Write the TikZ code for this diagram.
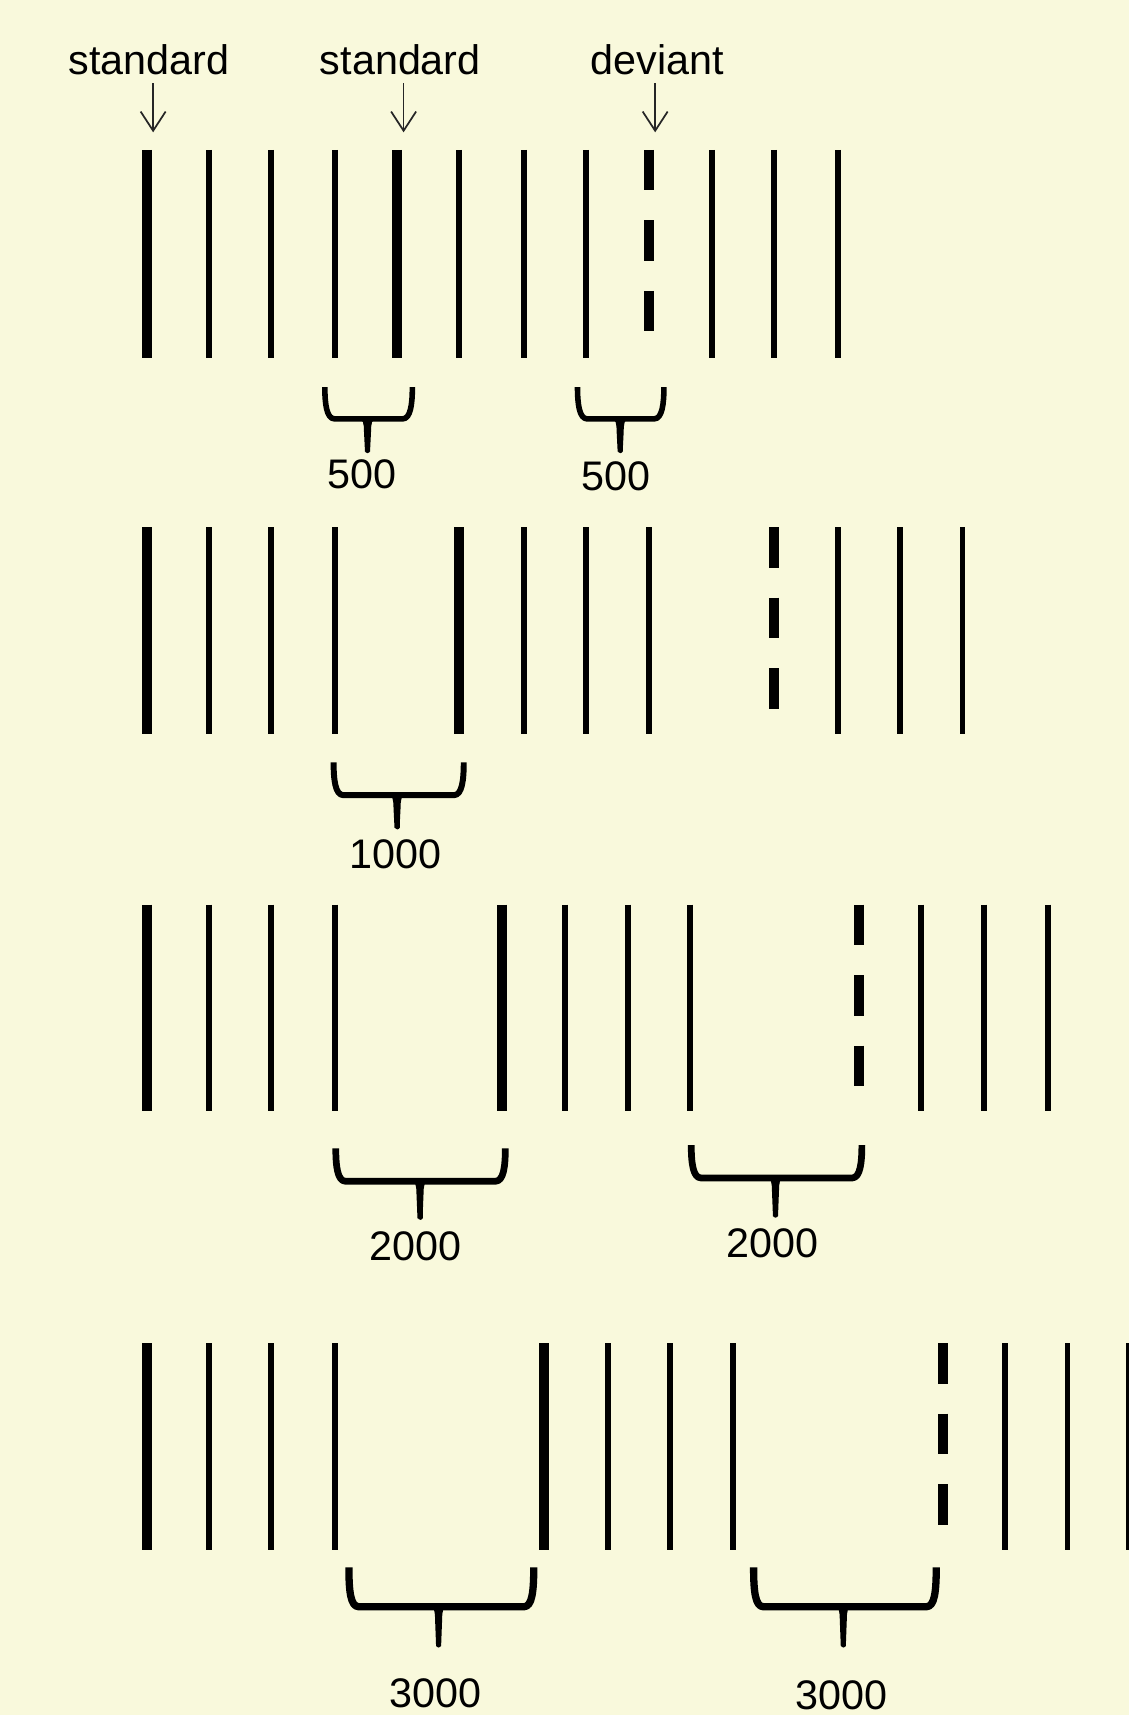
\documentclass[tikz,border=0pt]{standalone}
\usepackage{fontspec}
\setmainfont{Liberation Sans}
\usetikzlibrary{arrows.meta}
\definecolor{bg}{HTML}{F9F9DC}
\newcommand{\mybrace}[7]{%
  \draw[line width=#7, line join=round] (#1,#3) .. controls (#1,#4-14) and (#1+1.5,#4) .. (#1+9,#4) -- (#2-9,#4) .. controls (#2-1.5,#4) and (#2,#4-14) .. (#2,#3);
  \fill (#5-9,#4) .. controls (#5-3.5,#4) and (#5-3.4,#4+4) .. (#5-3.2,#4+12) -- (#5-2.3,#6) -- (#5+2.3,#6) -- (#5+3.2,#4+12) .. controls (#5+3.4,#4+4) and (#5+3.5,#4) .. (#5+9,#4) -- cycle;
  \draw[line width=2.6pt, line cap=round] (#5,#4+12) -- (#5,#6-1);
}
\begin{document}
\begin{tikzpicture}[x=0.02cm,y=-0.02cm,
  thinbar/.style={line width=3.1pt},
  thickbar/.style={line width=5.2pt},
  devbar/.style={line width=5.2pt, dash pattern=on 21.05pt off 15.65pt},
  lab/.style={font=\fontsize{21.5}{24}\selectfont, inner sep=0pt},
  pointer/.style={draw=black!85, line width=0.9pt, -{Straight Barb[length=10pt,width=13pt]}}]
\fill[bg] (0,0) rectangle (1032,1568);
\clip (0,0) rectangle (1032,1568);

% labels and pointers
\node[lab] (s1) at (136,55) {standard};
\node[lab] (s2) at (366,55) {standard};
\node[lab] (d1) at (601,55) {deviant};
\coordinate (t1) at (140,121);
\coordinate (t2) at (369,121);
\coordinate (t3) at (599,121);
\draw[pointer] (s1.south -| t1) ++(0,7) -- (t1);
\draw[pointer] (s2.south -| t2) ++(0,7) -- (t2);
\draw[pointer] (d1.south -| t3) ++(0,7) -- (t3);

% row 1
\foreach \x in {191,248,306,420,479,536,651,708,766} \draw[thinbar] (\x,137) -- (\x,327);
\foreach \x in {134,363} \draw[thickbar] (\x,137) -- (\x,327);
\draw[devbar] (593,137) -- (593,327);
\mybrace{297}{377}{354}{383}{336}{413}{2.9pt}
\mybrace{528}{607}{354}{383}{567}{413}{2.9pt}
\node[lab] (n1) at (331,434) {500};
\node[lab] (n2) at (563,435) {500};

% row 2
\foreach \x in {191,248,306,479,536,593,766,823,880} \draw[thinbar] (\x,482) -- (\x,671);
\foreach \x in {134,420} \draw[thickbar] (\x,482) -- (\x,671);
\draw[devbar] (708,482) -- (708,671);
\mybrace{305}{424}{697}{727}{363}{757}{3.1pt}
\node[lab] (n3) at (362,781) {1000};

% row 3
\foreach \x in {191,248,306,517,574,631,842,900,958} \draw[thinbar] (\x,827) -- (\x,1016);
\foreach \x in {134,459} \draw[thickbar] (\x,827) -- (\x,1016);
\draw[devbar] (785,827) -- (785,1016);
\mybrace{307}{462}{1050}{1080}{384}{1114}{3.5pt}
\mybrace{632}{788}{1047}{1077}{709}{1112}{3.5pt}
\node[lab] (n4) at (380,1139) {2000};
\node[lab] (n5) at (706,1137) {2000};

% row 4
\foreach \x in {191,248,306,556,613,670,919,976,1032} \draw[thinbar] (\x,1228) -- (\x,1417);
\foreach \x in {134,497} \draw[thickbar] (\x,1228) -- (\x,1417);
\draw[devbar] (862,1228) -- (862,1417);
\mybrace{319}{488}{1433}{1469}{401}{1505}{3.8pt}
\mybrace{689}{856}{1433}{1469}{771}{1505}{3.8pt}
\node[lab] (n6) at (398,1548) {3000};
\node[lab] (n7) at (769,1550) {3000};
\end{tikzpicture}
\end{document}
